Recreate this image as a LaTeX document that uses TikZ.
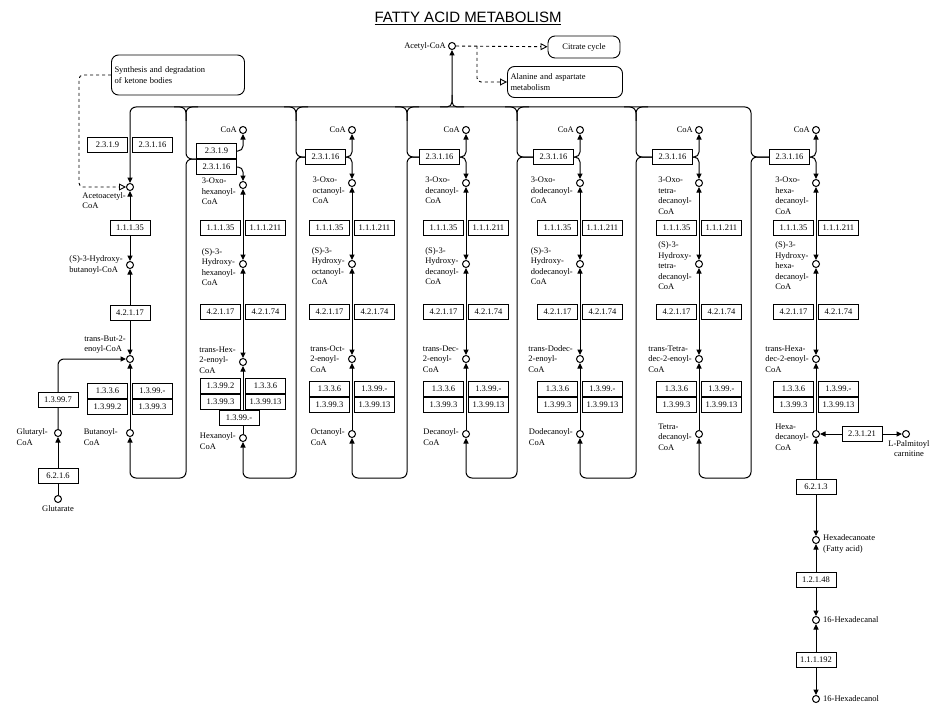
\documentclass[tikz,border=0pt]{standalone}
\usepackage{fontspec}
\setmainfont{Liberation Serif}
\newfontfamily\titlefont{Liberation Sans}
\usetikzlibrary{arrows.meta}

\tikzset{
  cpd/.style={circle,draw,line width=1pt,fill=white,inner sep=0pt,minimum size=7pt},
  enz/.style={draw,line width=.9pt,fill=white,inner sep=1pt,minimum width=40pt,minimum height=15pt,font=\fontsize{8.5}{10}\selectfont},
  lbl/.style={align=left,inner sep=0pt,font=\fontsize{8.5}{10.5}\selectfont},
  mapbox/.style={draw,line width=.9pt,rounded corners=7pt,align=left,inner sep=3pt,font=\fontsize{8.5}{10.5}\selectfont},
  rx/.style={line width=1pt,-{Triangle[length=5.5pt,width=5pt]}},
  rxx/.style={line width=1pt,{Triangle[length=5.5pt,width=5pt]}-{Triangle[length=5.5pt,width=5pt]}},
  ln/.style={line width=1pt},
  lnk/.style={line width=.9pt,dashed,-{Triangle[open,length=7pt,width=7pt]}},
}

\begin{document}
\begin{tikzpicture}[x=1pt,y=-1pt]
\useasboundingbox (0,0) rectangle (939,706);

\def\yTop{107}; \def\yCoA{130}; \def\yTh{157}; \def\yOxo{183};
\def\yEa{228}; \def\yHyd{264}; \def\yEb{312}; \def\yEn{359};
\def\yRa{389}; \def\yRb{405}; \def\yAc{434}; \def\yLp{478};

\node[font=\titlefont\fontsize{15}{17}\selectfont] (title) at (468,18) {\underline{FATTY ACID METABOLISM}};

%% Acetyl-CoA and maps
\node[cpd] (acoa) at (452,46) {};
\node[lbl,anchor=east] (lacoa) at (446,46) {Acetyl-CoA};
\node[mapbox,minimum width=72pt,minimum height=22pt] (citr) at (584,47) {Citrate cycle};
\node[mapbox,text width=109pt,minimum height=31pt] (ala) at (565,82) {Alanine and aspartate\\metabolism};
\node[mapbox,text width=127pt,minimum height=40pt] (keto) at (178,75) {Synthesis and degradation\\of ketone bodies};
\coordinate (br) at (477,46);
\draw[lnk] (acoa) -- (citr);
\draw[lnk,rounded corners=4pt] (br) |- (ala);

%% C4 column
\def\xc{130}
\node[cpd] (o1) at (\xc,187) {};
\node[cpd] (h1) at (\xc,265) {};
\node[cpd] (n1) at (\xc,359) {};
\node[cpd] (a1) at (\xc,433) {};
\node[cpd] (glu) at (58,433) {};
\node[cpd] (gla) at (58,499) {};
\node[lbl,anchor=north east] (lo1) at (126,192) {Acetoacetyl-\\CoA};
\node[lbl,anchor=east] (lh1) at (123,265) {(S)-3-Hydroxy-\\butanoyl-CoA};
\node[lbl,anchor=south east] (ln1) at (126,354) {trans-But-2-\\enoyl-CoA};
\node[lbl,anchor=east] (la1) at (118,437) {Butanoyl-\\CoA};
\node[lbl,anchor=east] (lglu) at (48,437) {Glutaryl-\\CoA};
\node[lbl,anchor=north] (lgla) at (58,505) {Glutarate};
\draw[rxx] (o1) -- (h1);
\draw[rxx] (h1) -- (n1);
\draw[rx] (a1) -- (n1);
\draw[rx,rounded corners=6pt] (glu) |- (n1);
\draw[rx] (gla) -- (glu);
\draw[lnk,rounded corners=4pt] (keto.west) -| (79,187) -- (o1);
\node[enz,anchor=east] (e1a) at (128,145) {2.3.1.9};
\node[enz,anchor=west] (e1b) at (132,145) {2.3.1.16};
\node[enz] (e1c) at (\xc,228) {1.1.1.35};
\node[enz] (e1d) at (\xc,313) {4.2.1.17};
\node[enz,anchor=east] (e1e) at (128,391) {1.3.3.6};
\node[enz,anchor=west] (e1f) at (132,391) {1.3.99.-};
\node[enz,anchor=east] (e1g) at (128,407) {1.3.99.2};
\node[enz,anchor=west] (e1h) at (132,407) {1.3.99.3};
\node[enz] (e1i) at (58,400) {1.3.99.7};
\node[enz] (e1j) at (58,476) {6.2.1.6};

%% C6 column
\def\xc{243}
\node[cpd] (c2) at (\xc,\yCoA) {};
\node[lbl,anchor=east] (lc2) at (\xc-6,\yCoA) {CoA};
\node[enz,anchor=east] (t2x) at (237,151) {2.3.1.9};
\node[enz,anchor=east] (t2) at (237,167) {2.3.1.16};
\coordinate (j2) at (t2.north west);
\node[cpd] (o2) at (\xc,185) {};
\node[cpd] (h2) at (\xc,264) {};
\node[cpd] (n2) at (\xc,362) {};
\node[cpd] (a2) at (\xc,438) {};
\node[lbl,anchor=north east] (lo2) at (\xc-7,178) {3-Oxo-\\hexanoyl-\\CoA};
\node[lbl,anchor=east] (lh2) at (\xc-7,267) {(S)-3-\\Hydroxy-\\hexanoyl-\\CoA};
\node[lbl,anchor=east] (ln2) at (\xc-7,360) {trans-Hex-\\2-enoyl-\\CoA};
\node[lbl,anchor=east] (la2) at (\xc-7,441) {Hexanoyl-\\CoA};
\draw[rx,rounded corners=5pt] (t2x.east) -| (c2);
\draw[rx,rounded corners=5pt] (t2.east) -| (o2);
\draw[rxx] (o2) -- (h2);
\draw[rxx] (h2) -- (n2);
\draw[rx] (a2) -- (n2);
\node[enz,anchor=east] (ea2) at (\xc-2,\yEa) {1.1.1.35};
\node[enz,anchor=west] (eb2) at (\xc+2,\yEa) {1.1.1.211};
\node[enz,anchor=east] (ec2) at (\xc-2,\yEb) {4.2.1.17};
\node[enz,anchor=west] (ed2) at (\xc+2,\yEb) {4.2.1.74};
\node[enz,anchor=east] (ee2) at (\xc-2,386) {1.3.99.2};
\node[enz,anchor=west] (ef2) at (\xc+2,386) {1.3.3.6};
\node[enz,anchor=east] (eg2) at (\xc-2,402) {1.3.99.3};
\node[enz,anchor=west] (eh2) at (\xc+2,402) {1.3.99.13};
\node[enz] (ei2) at (239,418) {1.3.99.-};

%% C8 to C16 columns
\foreach \i/\xc/\tOxo/\tHyd/\tEn/\tAc in {
 3/352/{3-Oxo-\\octanoyl-\\CoA}/{(S)-3-\\Hydroxy-\\octanoyl-\\CoA}/{trans-Oct-\\2-enoyl-\\CoA}/{Octanoyl-\\CoA},
 4/466/{3-Oxo-\\decanoyl-\\CoA}/{(S)-3-\\Hydroxy-\\decanoyl-\\CoA}/{trans-Dec-\\2-enoyl-\\CoA}/{Decanoyl-\\CoA},
 5/580/{3-Oxo-\\dodecanoyl-\\CoA}/{(S)-3-\\Hydroxy-\\dodecanoyl-\\CoA}/{trans-Dodec-\\2-enoyl-\\CoA}/{Dodecanoyl-\\CoA},
 6/699/{3-Oxo-\\tetra-\\decanoyl-\\CoA}/{(S)-3-\\Hydroxy-\\tetra-\\decanoyl-\\CoA}/{trans-Tetra-\\dec-2-enoyl-\\CoA}/{Tetra-\\decanoyl-\\CoA},
 7/816/{3-Oxo-\\hexa-\\decanoyl-\\CoA}/{(S)-3-\\Hydroxy-\\hexa-\\decanoyl-\\CoA}/{trans-Hexa-\\dec-2-enoyl-\\CoA}/{Hexa-\\decanoyl-\\CoA}}{
\node[cpd] (c\i) at (\xc,\yCoA) {};
\node[lbl,anchor=east] (lc\i) at (\xc-6,\yCoA) {CoA};
\node[enz,anchor=east] (t\i) at (\xc-6,\yTh) {2.3.1.16};
\coordinate (j\i) at (t\i.west);
\node[cpd] (o\i) at (\xc,\yOxo) {};
\node[cpd] (h\i) at (\xc,\yHyd) {};
\node[cpd] (n\i) at (\xc,\yEn) {};
\node[cpd] (a\i) at (\xc,\yAc) {};
\node[lbl,anchor=north east] (lo\i) at (\xc-7,\yOxo-6) {\tOxo};
\node[lbl,anchor=east] (lh\i) at (\xc-7,\yHyd+2) {\tHyd};
\node[lbl,anchor=east] (ln\i) at (\xc-7,\yEn) {\tEn};
\node[lbl,anchor=east] (la\i) at (\xc-7,\yAc+3) {\tAc};
\draw[rx,rounded corners=5pt] (t\i.east) -| (c\i);
\draw[rx,rounded corners=5pt] (t\i.east) -| (o\i);
\draw[rxx] (o\i) -- (h\i);
\draw[rxx] (h\i) -- (n\i);
\draw[rx] (a\i) -- (n\i);
\node[enz,anchor=east] (ea\i) at (\xc-2,\yEa) {1.1.1.35};
\node[enz,anchor=west] (eb\i) at (\xc+2,\yEa) {1.1.1.211};
\node[enz,anchor=east] (ec\i) at (\xc-2,\yEb) {4.2.1.17};
\node[enz,anchor=west] (ed\i) at (\xc+2,\yEb) {4.2.1.74};
\node[enz,anchor=east] (ee\i) at (\xc-2,\yRa) {1.3.3.6};
\node[enz,anchor=west] (ef\i) at (\xc+2,\yRa) {1.3.99.-};
\node[enz,anchor=east] (eg\i) at (\xc-2,\yRb) {1.3.99.3};
\node[enz,anchor=west] (eh\i) at (\xc+2,\yRb) {1.3.99.13};
}

%% loops between columns
\foreach \i/\j/\xl in {2/1/186,3/2/296,4/3/407,5/4/517,6/5/636}{
\draw[rx,rounded corners=6pt] (j\i) -| (\xl,\yLp) -| (a\j);
\draw[ln,rounded corners=6pt] (\xl-12,\yTop) -- (\xl,\yTop) |- (j\i);
\draw[ln,rounded corners=6pt] (\xl+12,\yTop) -- (\xl,\yTop) -- (\xl,\yTop+14);
}
\draw[rx,rounded corners=6pt] (j7) -| (751,\yLp) -| (a6);
\draw[rx,rounded corners=6pt] (j7) -| (751,\yTop) -| (o1);
\draw[rx,rounded corners=5pt] (440,\yTop) -| (acoa);
\draw[ln,rounded corners=5pt] (464,\yTop) -| (452,95);

%% C16 end
\node[enz] (e21) at (862,434) {2.3.1.21};
\node[cpd] (pal) at (906,434) {};
\node[lbl,anchor=north,align=center] (lpal) at (909,440) {L-Palmitoyl\\carnitine};
\draw[rx] (e21) -- (a7);
\draw[rx] (e21) -- (pal);
\node[cpd] (hxa) at (816,540) {};
\node[cpd] (hxl) at (816,620) {};
\node[cpd] (hxo) at (816,699) {};
\node[lbl,anchor=west] (lhxa) at (823,544) {Hexadecanoate\\(Fatty acid)};
\node[lbl,anchor=west] (lhxl) at (823,620) {16-Hexadecanal};
\node[lbl,anchor=west] (lhxo) at (823,699) {16-Hexadecanol};
\draw[rxx] (a7) -- (hxa);
\draw[rxx] (hxa) -- (hxl);
\draw[rxx] (hxl) -- (hxo);
\node[enz] (e213) at (816,487) {6.2.1.3};
\node[enz] (e148) at (816,580) {1.2.1.48};
\node[enz] (e192) at (816,660) {1.1.1.192};

\end{tikzpicture}
\end{document}
